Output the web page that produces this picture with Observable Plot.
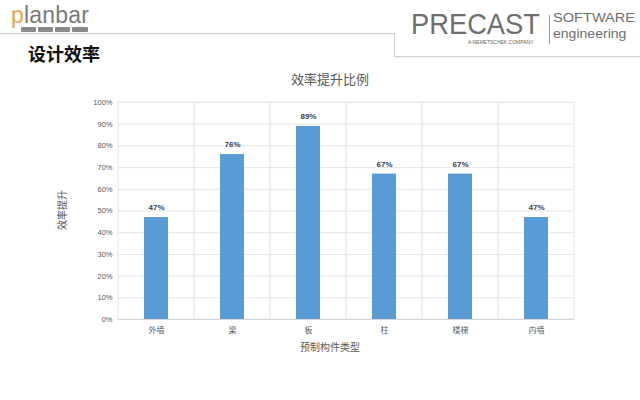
<!DOCTYPE html>
<html><head><meta charset="utf-8">
<script src="https://cdn.jsdelivr.net/npm/d3@7"></script>
<script src="https://cdn.jsdelivr.net/npm/@observablehq/plot@0.6"></script>
<style>
body{margin:0;background:#fff;width:640px;height:400px;overflow:hidden;position:relative;font-family:"Noto Sans CJK SC","Liberation Sans",sans-serif;}
.abs{position:absolute;white-space:nowrap;}
#chart{position:absolute;left:0;top:0;}
</style>
</head><body>
<div id="chart"></div>
<!-- header -->
<div class="abs" style="left:0;top:33px;width:394px;height:1px;background:#d4d4d4;box-shadow:0 1px 2px #e4e4e4;"></div>
<div class="abs" style="left:394px;top:33px;width:1px;height:23px;background:#d4d4d4;"></div>
<div class="abs" style="left:394px;top:56px;width:246px;height:1px;background:#d4d4d4;box-shadow:0 1px 2px #e4e4e4;"></div>
<div class="abs" style="left:11px;top:2px;font:23px 'Liberation Sans',Arial,sans-serif;color:#7a7a7a;letter-spacing:0.2px;"><span style="color:#eea444">p</span>lanbar</div>
<div class="abs" style="left:21px;top:27px;width:15px;height:5px;background:#8a8a8a;border-radius:1px;"></div>
<div class="abs" style="left:38px;top:27px;width:15px;height:5px;background:#8a8a8a;border-radius:1px;"></div>
<div class="abs" style="left:55px;top:27px;width:15px;height:5px;background:#8a8a8a;border-radius:1px;"></div>
<div class="abs" style="left:72px;top:27px;width:16px;height:5px;background:#8a8a8a;border-radius:1px;"></div>
<div class="abs" style="left:411px;top:7px;font:30px 'Liberation Sans',Arial,sans-serif;color:#6e6e6e;transform:scaleX(0.91);transform-origin:0 0;">PRECAST</div>
<div class="abs" style="left:549px;top:15px;width:1px;height:29px;background:#999;"></div>
<div class="abs" style="left:553px;top:10px;font:13.5px/15px 'Liberation Sans',Arial,sans-serif;color:#6e6e6e;transform:scaleX(1.08);transform-origin:0 0;">SOFTWARE</div>
<div class="abs" style="left:553px;top:26px;font:13.5px/15px 'Liberation Sans',Arial,sans-serif;color:#6e6e6e;transform:scaleX(1.04);transform-origin:0 0;">engineering</div>
<div class="abs" style="left:468px;top:39px;font:5px 'Liberation Sans',Arial,sans-serif;color:#666;">A NEMETSCHEK COMPANY</div>
<div class="abs" style="left:28px;top:42px;font:700 18px/22px 'Noto Sans CJK SC',sans-serif;color:#111;">设计效率</div>
<!-- chart texts -->
<div class="abs" style="left:0;width:660px;text-align:center;top:70px;font:13px/18px 'Noto Sans CJK SC',sans-serif;color:#595959;">效率提升比例</div>
<div class="abs" style="left:0;width:660px;text-align:center;top:340px;font:10px/14px 'Noto Sans CJK SC',sans-serif;color:#595959;">预制构件类型</div>
<div class="abs" style="left:62px;top:210px;font:10px/12px 'Noto Sans CJK SC',sans-serif;color:#595959;transform:translate(-50%,-50%) rotate(-90deg);">效率提升</div>
<script>
const categories = ["外墙","梁","板","柱","楼梯","内墙"];
const values = [0.47, 0.76, 0.89, 0.67, 0.67, 0.47];
const yTicks = [0,0.1,0.2,0.3,0.4,0.5,0.6,0.7,0.8,0.9,1.0];

const data = categories.map((c,i)=>({cat:c, v:values[i]}));
const fmt = d3.format(".0%");

const plot = Plot.plot({
  width: 640, height: 400,
  marginLeft: 117, marginRight: 66, marginTop: 102, marginBottom: 81,
  style: {fontFamily: "'Noto Sans CJK SC', sans-serif", background: "transparent"},
  x: {domain: categories, padding: 0, label: null, tickSize: 0, tickPadding: 8},
  y: {domain: [0,1], ticks: yTicks, tickFormat: fmt, label: null, tickSize: 0, tickPadding: 5},
  marks: [
    Plot.gridY(yTicks, {stroke: "#e6e6e6", strokeOpacity: 1}),
    Plot.barY(categories, {x: d=>d, y1: 0, y2: 1, fill: "none", stroke: "#e8e8e8"}),
    Plot.ruleY([0], {stroke: "#d6d6d6"}),
    Plot.barY(data, {x: "cat", y: "v", fill: "#5b9bd5", insetLeft: 26, insetRight: 26}),
    Plot.text(data, {x: "cat", y: "v", text: d=>fmt(d.v), dy: -10, fontWeight: "bold", fontSize: 8, fill: "#404040", fontFamily: "'Liberation Sans', Arial, sans-serif"}),
    Plot.axisY({ticks: yTicks, tickFormat: fmt, tickSize: 0, tickPadding: 5, fontSize: 7.5, fill: "#595959", fontFamily: "'Liberation Sans', Arial, sans-serif", label: null}),
    Plot.axisX({tickSize: 0, tickPadding: 8, fontSize: 8, fill: "#595959", label: null})
  ]
});
document.getElementById("chart").appendChild(plot);
</script>
</body></html>
